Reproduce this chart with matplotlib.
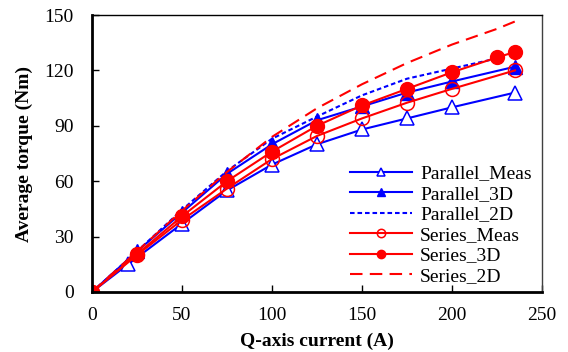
import numpy as np
import matplotlib.pyplot as plt

plt.rcParams['font.family'] = 'serif'
plt.rcParams['font.serif'] = ['Liberation Serif', 'DejaVu Serif']
plt.rcParams['font.size'] = 14

# data
par_meas_x = [0, 20, 50, 75, 100, 125, 150, 175, 200, 235]
par_meas_y = [0, 15, 37, 55, 69, 80, 88, 94, 100, 108]

par_3d_x = [0, 25, 50, 75, 100, 125, 150, 175, 200, 235]
par_3d_y = [0, 22, 43, 64, 80, 93, 100.5, 108, 114, 122]

par_2d_x = [0, 25, 50, 75, 100, 125, 150, 175, 200, 225]
par_2d_y = [0, 22, 44.5, 65.5, 83, 95, 106.5, 115.5, 121, 126.5]

ser_meas_x = [0, 25, 50, 75, 100, 125, 150, 175, 200, 235]
ser_meas_y = [0, 20, 39, 56, 72, 84.5, 94, 102.5, 110, 120]

ser_3d_x = [0, 25, 50, 75, 100, 125, 150, 175, 200, 225, 235]
ser_3d_y = [0, 20.5, 41, 60, 76, 90, 101, 110, 119, 127, 130]

ser_2d_x = [0, 25, 50, 75, 100, 125, 150, 175, 200, 225, 235]
ser_2d_y = [0, 22, 44, 65, 84, 99.5, 112.5, 124, 134, 142.5, 146.5]

x_ticks = [0, 50, 100, 150, 200, 250]
y_ticks = [0, 30, 60, 90, 120, 150]

BLUE = '#0000FF'
RED = '#FF0000'

fig = plt.figure(figsize=(5.68, 3.52), dpi=100)
ax = fig.add_axes([92 / 568, 1 - 292 / 352, 450 / 568, 277 / 352])

lw = 1.5
ax.plot(par_meas_x, par_meas_y, color=BLUE, lw=lw, marker='^', ms=10,
        mfc='white', mec=BLUE, mew=1.1, label='Parallel_Meas')
ax.plot(par_3d_x, par_3d_y, color=BLUE, lw=lw, marker='^', ms=10,
        mfc=BLUE, mec=BLUE, label='Parallel_3D')
ax.plot(par_2d_x, par_2d_y, color=BLUE, lw=lw, ls=(0, (2.2, 1.4)),
        label='Parallel_2D')
ax.plot(ser_meas_x, ser_meas_y, color=RED, lw=lw, marker='o', ms=10,
        mfc='none', mec=RED, mew=1.1, label='Series_Meas')
ax.plot(ser_3d_x, ser_3d_y, color=RED, lw=lw, marker='o', ms=10,
        mfc=RED, mec=RED, label='Series_3D')
ax.plot(ser_2d_x, ser_2d_y, color=RED, lw=lw, ls=(0, (6, 3.5)),
        label='Series_2D')

ax.set_xlim(0, 250)
ax.set_ylim(0, 150)
ax.set_xticks(x_ticks)
ax.set_yticks(y_ticks)
ax.tick_params(direction='in', length=5, width=1, top=False, right=False)
ax.tick_params(axis='x', pad=11)
ax.tick_params(axis='y', pad=13)

for side in ['left', 'bottom']:
    ax.spines[side].set_linewidth(2)
for side in ['top', 'right']:
    ax.spines[side].set_linewidth(1)
ax.spines['right'].set_color('#404040')

ax.set_xlabel('Q-axis current (A)', fontweight='bold', labelpad=6)
ax.set_ylabel('Average torque (Nm)', fontweight='bold', labelpad=8.5)

ax.legend(loc='lower left', bbox_to_anchor=((350 - 92) / 450, 0.025),
          frameon=False, borderpad=0, borderaxespad=0, handlelength=3.2,
          handletextpad=0.4, labelspacing=0.15, markerscale=0.6)

fig.savefig('out.png', dpi=100)
